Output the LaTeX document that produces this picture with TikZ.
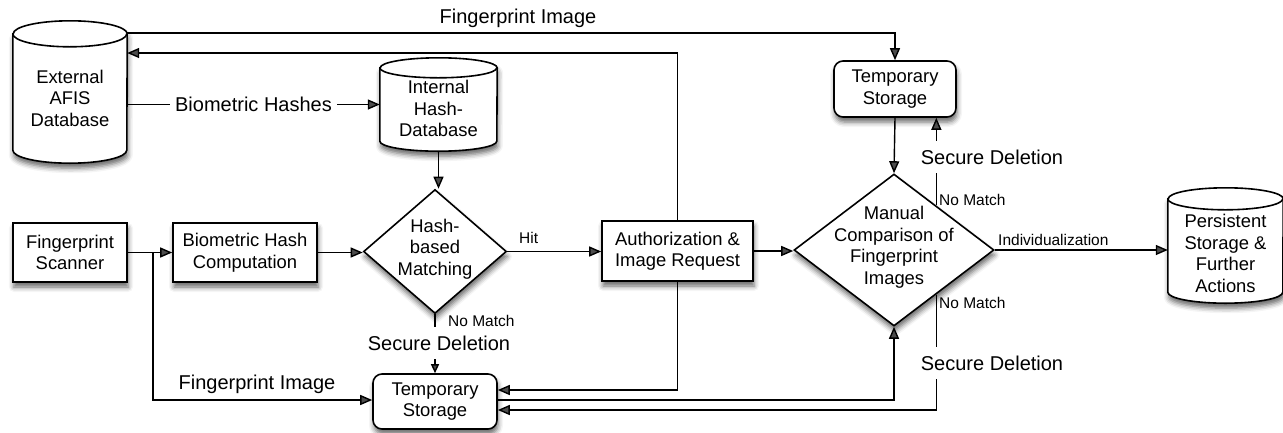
\documentclass[tikz,border=0pt]{standalone}
\usepackage{fontspec}
\setmainfont{Liberation Sans}
\usetikzlibrary{shapes.geometric,arrows.meta,calc,shadows.blur}
\tikzset{
  dropsh/.style={blur shadow={shadow xshift=1pt,shadow yshift=-5pt,shadow blur radius=5pt,shadow opacity=60}},
  boxtxt/.style={font=\fontsize{18.4}{21.5}\selectfont, align=center},
  procbox/.style={boxtxt, draw, line width=1.6pt, fill=white, dropsh, inner sep=0pt},
  tempbox/.style={procbox, rounded corners=9pt},
  drumframe/.style={inner sep=0pt},
  drumbody/.style={draw, line width=1.6pt, fill=white, dropsh},
  drumline/.style={line width=1.6pt},
  decide/.style={diamond, draw, line width=1.6pt, fill=white, dropsh, inner sep=0pt},
  lbl/.style={font=\fontsize{20}{24}\selectfont, inner sep=0pt},
  cover/.style={lbl, fill=white, inner xsep=4pt, inner ysep=9pt},
  small/.style={font=\fontsize{15.5}{18}\selectfont, inner sep=0pt},
  conn/.style={line width=1.4pt},
  arr/.style={conn, -{Triangle[length=12pt,width=10pt]}},
  sarr/.style={conn, -{Triangle[length=9pt,width=8pt]}},
}
% drum outline round a frame node: #1 node, #2 half width, #3 cap height
\newcommand{\drumoutline}[3]{%
  \path[drumbody] ([yshift=-#3]#1.north west) -- ([yshift=#3]#1.south west)
    arc[start angle=180,end angle=360,x radius=#2,y radius=#3]
    -- ([yshift=-#3]#1.north east)
    arc[start angle=0,end angle=180,x radius=#2,y radius=#3] -- cycle;
  \draw[drumline] ([yshift=-#3]#1.north west)
    arc[start angle=180,end angle=360,x radius=#2,y radius=#3];
}
\begin{document}
\begin{tikzpicture}[x=1pt,y=-1pt]
\useasboundingbox (0,0) rectangle (1283,432);

% storage drums and their captions
\node[drumframe, minimum width=114pt, minimum height=142pt] (ext) at (70,92) {};
\drumoutline{ext}{57pt}{13pt}
\node[boxtxt] (ext-t) at (70,98) {External\\AFIS\\Database};
\node[drumframe, minimum width=117pt, minimum height=93pt] (intdb) at (438.5,104.5) {};
\drumoutline{intdb}{58.5pt}{10pt}
\node[boxtxt] (intdb-t) at (438.5,108.5) {Internal\\Hash-\\Database};
\node[drumframe, minimum width=115pt, minimum height=115pt] (pers) at (1225.5,245.5) {};
\drumoutline{pers}{57.5pt}{11pt}
\node[boxtxt] (pers-t) at (1225.5,253.5) {Persistent\\Storage \&\\Further\\Actions};

% process boxes
\node[procbox, minimum width=114pt, minimum height=59pt] (scan) at (70,252.5) {Fingerprint\\Scanner};
\node[procbox, minimum width=144pt, minimum height=59pt] (bhc) at (245,252.5) {Biometric Hash\\Computation};
\node[procbox, minimum width=151pt, minimum height=60pt] (auth) at (677.5,251) {Authorization \&\\Image Request};
\node[tempbox, minimum width=122pt, minimum height=56pt] (tmp1) at (895,89) {Temporary\\Storage};
\node[tempbox, minimum width=124pt, minimum height=55pt] (tmp2) at (435,401.5) {Temporary\\Storage};

% decisions
\node[decide, minimum width=143pt, minimum height=124pt] (hbm) at (435,251.5) {};
\node[boxtxt] (hbm-t) at (435,249) {Hash-\\based\\Matching};
\node[decide, minimum width=200pt, minimum height=152pt] (mc) at (894,250) {};
\node[boxtxt] (mc-t) at (894,247) {Manual\\Comparison of\\Fingerprint\\Images};

% points where the deletion paths leave the comparison diamond
\coordinate (mcup) at ($(mc.north)!0.42!(mc.east)$);
\coordinate (mclow) at ($(mc.south)!0.42!(mc.east)$);
\coordinate (fork) at (153,0 |- scan.east);

% image path to the upper temporary storage
\draw[arr] (ext.east |- 0,33) -| (tmp1.north);
\node[lbl] (fpi1) at (518,18) {Fingerprint Image};
\draw[arr] (auth.north) |- (ext.east |- 0,53);

% hash path
\draw[arr] (ext.east |- intdb.west) -- node[lbl, fill=white, inner xsep=5pt] (bh) {Biometric Hashes} (intdb.west);
\draw[arr] (intdb.south) -- (intdb.south |- hbm.north);
\draw[arr] (scan.east) -- (bhc.west);
\draw[arr] (fork) |- ([yshift=1.5pt]tmp2.west);
\node[lbl] (fpi2) at (257,384) {Fingerprint Image};
\draw[arr] (bhc.east) -- (bhc.east -| hbm.west);
\draw[arr] (hbm.east) -- (hbm.east -| auth.west);
\node[small, anchor=west] (hit) at (519,238) {Hit};
\draw[sarr] (hbm.south) -- (hbm.south |- tmp2.north);
\node[cover] (sd1) at (439,343) {Secure Deletion};
\node[small, anchor=west] (nm1) at (448,321) {No Match};

% authorization and manual comparison
\draw[arr] (auth.east) -- (auth.east -| mc.west);
\draw[arr] (auth.south) |- ([yshift=11.5pt]tmp2.east);
\draw[arr] ([yshift=1.5pt]tmp2.east) -| (mc.south);
\draw[arr] (tmp1.south) -- (mc.north);
\draw[arr] (mclow) |- ([yshift=-8.5pt]tmp2.east);
\node[cover] (sd3) at (992,363) {Secure Deletion};
\node[small, anchor=west] (nm3) at (939,303) {No Match};
\draw[arr] (mcup) -- (mcup |- tmp1.south);
\node[cover] (sd2) at (992,157) {Secure Deletion};
\node[small, anchor=west] (nm2) at (939,200) {No Match};
\draw[arr] (mc.east) -- (mc.east -| pers.west);
\node[small, anchor=west] (ind) at (998,240) {Individualization};
\end{tikzpicture}
\end{document}
